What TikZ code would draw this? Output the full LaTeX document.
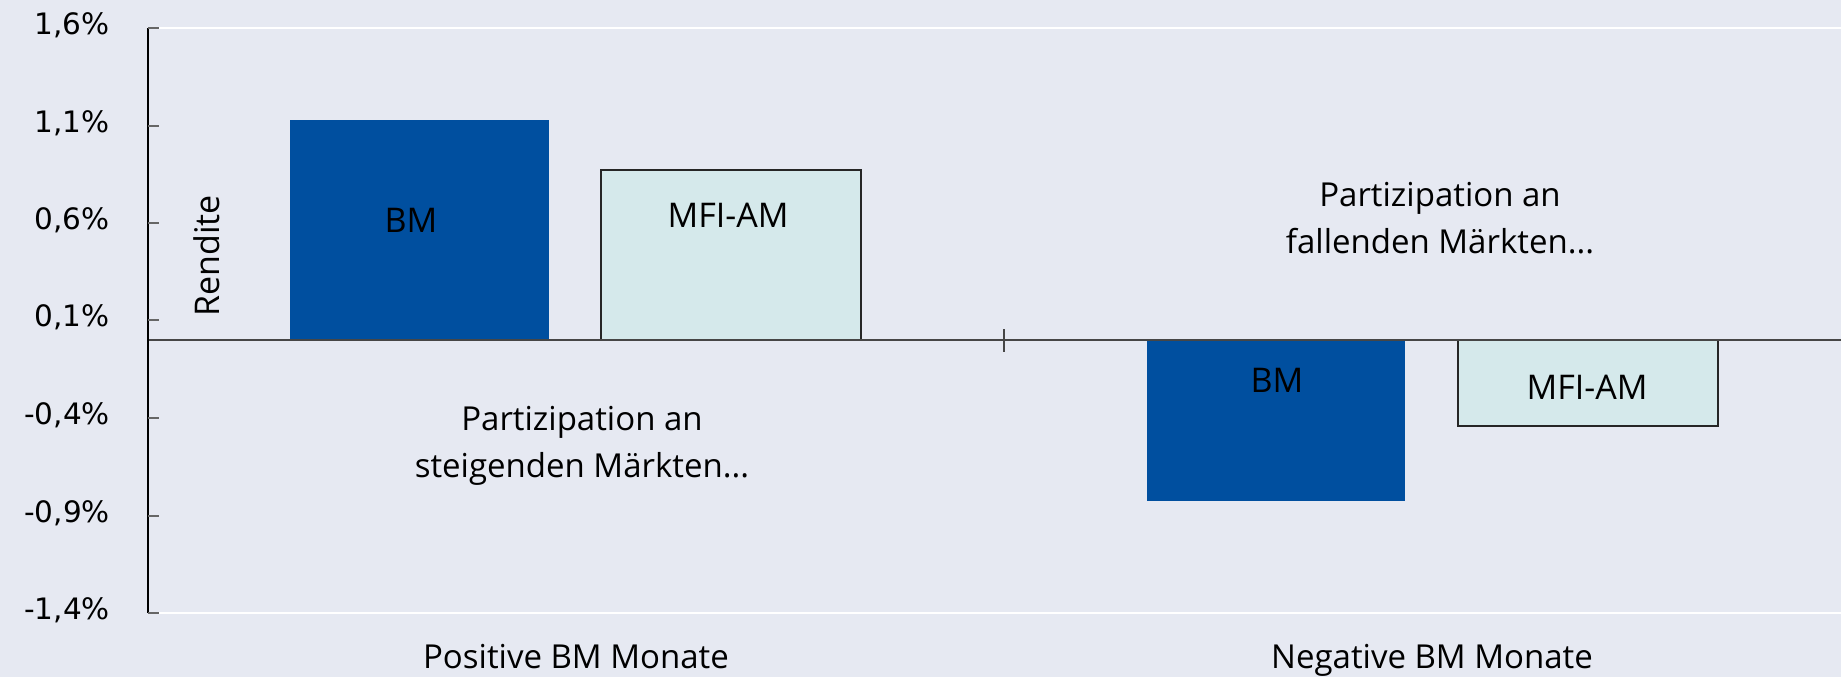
\documentclass[tikz,border=0pt]{standalone}
\usepackage{fontspec}
\setmainfont{Open Sans}
\newfontfamily\ticksfont{DejaVu Sans}
\usetikzlibrary{positioning}

\definecolor{bgcol}{RGB}{230,233,242}
\definecolor{bmblue}{RGB}{0,79,159}
\definecolor{mficol}{RGB}{213,233,235}
\definecolor{zerocol}{RGB}{70,70,70}

\tikzset{
	bmbar/.style={fill=bmblue},
	mfibar/.style={fill=mficol, draw=black!85, line width=1.3pt},
	barlab/.style={font=\fontsize{34}{40}\selectfont, text=black},
	notelab/.style={font=\fontsize{33}{47}\selectfont, align=center},
	ticklab/.style={font=\ticksfont\fontsize{29.5}{34}\selectfont, anchor=east, inner sep=0pt},
	catlab/.style={font=\fontsize{33}{38}\selectfont, anchor=base, inner sep=0pt}
}

\begin{document}
\begin{tikzpicture}[x=1pt,y=-1pt]
		\useasboundingbox (0,0) rectangle (1841,677);
		\fill[bgcol] (0,0) rectangle (1841,677);
		
		% gridlines
		\draw[white, line width=2pt] (159,28)--(1841,28);
		\draw[white, line width=2pt] (159,613)--(1841,613);
		
		% bars
		\fill[bmbar] (290,120) rectangle (549,340);
		\filldraw[mfibar] (601,170) rectangle (861,340);
		\fill[bmbar] (1147,340) rectangle (1405,501);
		\filldraw[mfibar] (1458,340) rectangle (1718,426);
		
		% zero line and axis
		\coordinate (z0) at (148,340);
		\coordinate (z1) at (1841,340);
		\draw[zerocol, line width=1.5pt] (z0)--(z1);
		\coordinate (m0) at (1004,329);
		\coordinate (m1) at (1004,352);
		\draw[zerocol, line width=1.3pt] (m0)--(m1);
		\coordinate (atop) at (148,28);
		\coordinate (abot) at (148,613);
		\draw[line width=1.4pt] (atop)--(abot);
		
		\foreach \y/\lab in {28/{1,6\%},126/{1,1\%},223/{0,6\%},320/{0,1\%},418/{-0,4\%},516/{-0,9\%},613/{-1,4\%}}{
			\draw[black!60, line width=1.4pt] (148,\y)--(159,\y);
			\node[ticklab] at (110,\y-3) {\lab};
		}
		
		\node[rotate=90, barlab] (rendite) at (207,256) {Rendite};
		\node[barlab] (bm1) at (411,220) {BM};
		\node[barlab] (mfi1) at (728,215) {MFI-AM};
		\node[barlab] (bm2) at (1277,380) {BM};
		\node[barlab] (mfi2) at (1587,387) {MFI-AM};
		\node[notelab] (fall) at (1440,218) {Partizipation an\\fallenden Märkten...};
		\node[notelab] (steig) at (582,446) {Partizipation an\\steigenden Märkten...};
		\node[catlab] (pos) at (576,668) {Positive BM Monate};
		\node[catlab] (neg) at (1432,668) {Negative BM Monate};
	\end{tikzpicture}
\end{document}
